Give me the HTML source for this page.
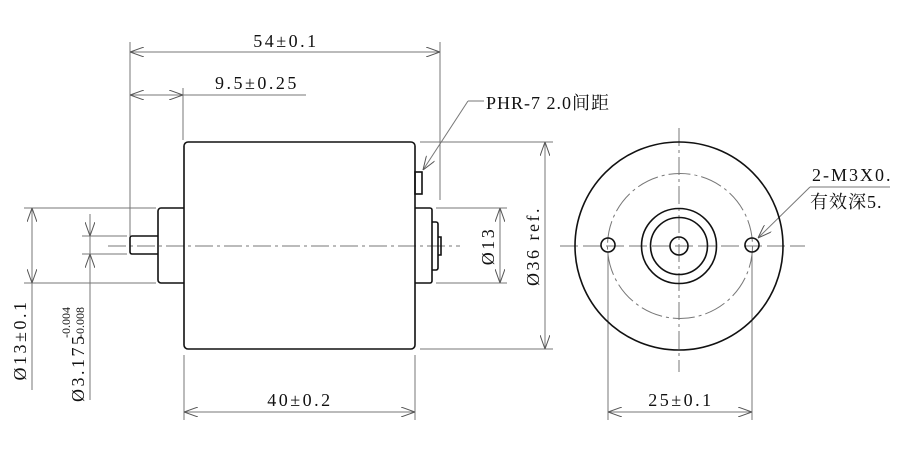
<!DOCTYPE html>
<html><head><meta charset="utf-8"><style>
html,body{margin:0;padding:0;background:#fff;width:900px;height:450px;overflow:hidden}
svg{display:block}
text{font-family:"Liberation Serif","Noto Serif CJK SC",serif;font-size:18px;fill:#111}
.d{letter-spacing:2.5px}
</style></head><body>
<svg width="900" height="450" viewBox="0 0 900 450">
<defs>
<marker id="a" viewBox="0 0 14 10" refX="14" refY="5" markerWidth="14" markerHeight="10" markerUnits="userSpaceOnUse" orient="auto-start-reverse">
<path d="M0,0 L14,5 L0,10" fill="none" stroke="#555" stroke-width="1"/></marker>
</defs>
<g stroke="#777" stroke-width="1" fill="none">
<line x1="130" y1="42" x2="130" y2="236"/>
<line x1="183" y1="88" x2="183" y2="140"/>
<line x1="440" y1="42" x2="440" y2="200"/>
<line x1="184" y1="355" x2="184" y2="420"/>
<line x1="415" y1="355" x2="415" y2="420"/>
<line x1="420" y1="142" x2="553" y2="142"/>
<line x1="420" y1="349" x2="553" y2="349"/>
<line x1="436" y1="208" x2="507" y2="208"/>
<line x1="436" y1="283" x2="507" y2="283"/>
<line x1="24" y1="208" x2="156" y2="208"/>
<line x1="24" y1="283" x2="156" y2="283"/>
<line x1="82" y1="236" x2="127" y2="236"/>
<line x1="82" y1="254" x2="127" y2="254"/>
<line x1="608" y1="252" x2="608" y2="420"/>
<line x1="752" y1="252" x2="752" y2="420"/>
<line x1="130" y1="52" x2="440" y2="52" marker-start="url(#a)" marker-end="url(#a)"/>
<line x1="130" y1="95" x2="183" y2="95" marker-start="url(#a)" marker-end="url(#a)"/>
<line x1="183" y1="95" x2="306" y2="95"/>
<line x1="184" y1="412" x2="415" y2="412" marker-start="url(#a)" marker-end="url(#a)"/>
<line x1="608" y1="412" x2="752" y2="412" marker-start="url(#a)" marker-end="url(#a)"/>
<line x1="545" y1="142" x2="545" y2="349" marker-start="url(#a)" marker-end="url(#a)"/>
<line x1="500" y1="208" x2="500" y2="283" marker-start="url(#a)" marker-end="url(#a)"/>
<line x1="32" y1="208" x2="32" y2="283" marker-start="url(#a)" marker-end="url(#a)"/>
<line x1="32" y1="283" x2="32" y2="390"/>
<line x1="90" y1="214" x2="90" y2="236" marker-end="url(#a)"/>
<line x1="90" y1="276" x2="90" y2="254" marker-end="url(#a)"/>
<line x1="90" y1="236" x2="90" y2="254"/>
<line x1="90" y1="276" x2="90" y2="400"/>
<polyline points="468,101 484,101"/>
<line x1="468" y1="101" x2="423" y2="170" marker-end="url(#a)"/>
<polyline points="810,187 890,187"/>
<line x1="810" y1="187" x2="758" y2="238" marker-end="url(#a)"/>
<line x1="108" y1="246" x2="460" y2="246" stroke-dasharray="18,4,3,4"/>
<line x1="560" y1="246" x2="805" y2="246" stroke-dasharray="18,5"/>
<line x1="679" y1="128" x2="679" y2="372" stroke-dasharray="18,4,3,4"/>
<circle cx="680" cy="246" r="72.5" stroke-dasharray="22,4,3,4"/>
</g>
<g stroke="#111" stroke-width="1.6" fill="none">
<rect x="184" y="142" width="231" height="207" rx="4"/>
<path d="M184,208 H161 a3,3 0 0 0 -3,3 V280 a3,3 0 0 0 3,3 H184"/>
<path d="M158,236 H132 a2,2 0 0 0 -2,2 V252 a2,2 0 0 0 2,2 H158"/>
<rect x="415" y="172" width="7" height="22"/>
<path d="M415,208 H430 a2,2 0 0 1 2,2 V281 a2,2 0 0 1 -2,2 H415"/>
<path d="M432,222 H436 a2,2 0 0 1 2,2 V268 a2,2 0 0 1 -2,2 H432"/>
<path d="M438,237 H441 V255 H438"/>
<circle cx="679" cy="246" r="104"/>
<circle cx="679" cy="246" r="37.5"/>
<circle cx="679" cy="246" r="28.5"/>
<circle cx="679" cy="246" r="9"/>
<circle cx="608" cy="245" r="7"/>
<circle cx="752" cy="245" r="7"/>
</g>
<text class="d" x="286" y="47" text-anchor="middle">54±0.1</text>
<text class="d" x="257" y="89" text-anchor="middle">9.5±0.25</text>
<text class="d" x="300" y="406" text-anchor="middle">40±0.2</text>
<text class="d" x="681" y="406" text-anchor="middle">25±0.1</text>
<text x="486" y="109" style="letter-spacing:1px">PHR-7 2.0间距</text>
<text x="812" y="181" style="letter-spacing:2px">2-M3X0.</text>
<text x="810" y="208" style="letter-spacing:1px">有效深5.</text>
<text class="d" transform="translate(539,246) rotate(-90)" text-anchor="middle">Ø36 ref.</text>
<text class="d" transform="translate(494,246) rotate(-90)" text-anchor="middle">Ø13</text>
<text class="d" transform="translate(26,340) rotate(-90)" text-anchor="middle">Ø13±0.1</text>
<text class="d" transform="translate(84,402) rotate(-90)">Ø3.175</text>
<text transform="translate(70,338) rotate(-90)" style="font-size:12px">-0.004</text>
<text transform="translate(84,338) rotate(-90)" style="font-size:12px">-0.008</text>
</svg>
</body></html>
